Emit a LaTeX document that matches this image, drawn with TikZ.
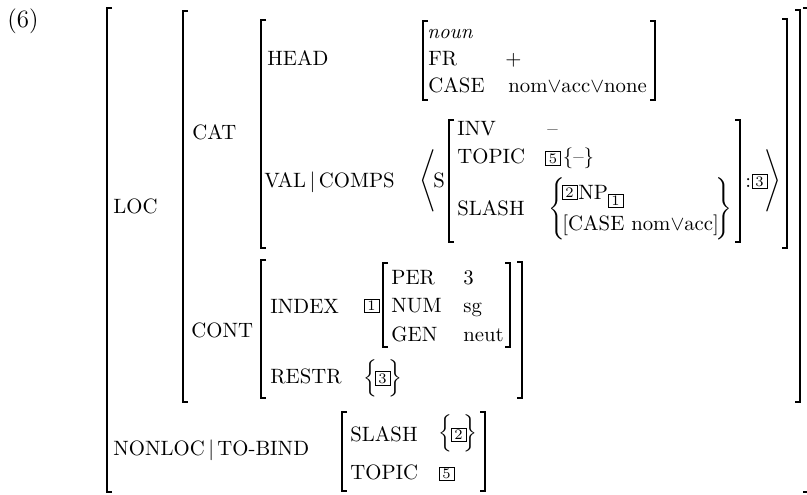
\documentclass[tikz,border=0pt]{standalone}
\usepackage{amsmath, amssymb}
\usepackage{tikz}

\tikzset{
  lbl/.style={anchor=base west, inner sep=0pt},
  delim/.style={inner sep=0pt},
  tagbox/.style={draw, line width=0.4pt, inner sep=0pt, minimum width=7.2pt, minimum height=6.6pt, font=\scriptsize},
  brk/.style={line width=0.55pt}
}

\begin{document}
\begin{tikzpicture}[x=0.4818pt, y=-0.4818pt]
  \useasboundingbox (0,0) rectangle (807,494);
  \node[lbl, font=\large] (exno) at (7,27) {(6)};
  % brackets: left ones, then right ones
  \foreach \x/\ya/\yb in {107/8/492, 183/11/402, 261/20/248, 261/260/398, 423/21/100, 449/120/242, 383/263/347, 342/412/491}
    \draw[brk] (\x+5,\ya) -- (\x,\ya) -- (\x,\yb) -- (\x+5,\yb);
  \foreach \x/\ya/\yb in {808/8/492, 800/10/402, 787/19/248, 522/262/398, 655/21/100, 740/120/242, 510/263/347, 485/412/491}
    \draw[brk] (\x-5,\ya) -- (\x,\ya) -- (\x,\yb) -- (\x-5,\yb);

  \node[lbl] (loc) at (113,213) {LOC};
  \node[lbl] (cat) at (192,139) {CAT};
  \node[lbl] (head) at (267,65) {HEAD};
  \node[lbl] (noun) at (427,38) {\textit{noun}};
  \node[lbl] (fr) at (428,65) {FR};
  \node[lbl] (frval) at (505,65) {$+$};
  \node[lbl] (case) at (428,92) {CASE};
  \node[lbl] (caseval) at (508,92) {nom$\vee$acc$\vee$none};

  \node[lbl] (comps) at (264,187) {VAL\,$|$\,COMPS};
  \node[delim, anchor=west] (langle) at (419,181) {$\Bigg\langle$};
  \node[lbl] (s) at (433,187) {S};
  \node[lbl] (inv) at (457,135) {INV};
  \node[lbl] (invval) at (547,135) {--};
  \node[lbl] (topic) at (457,163) {TOPIC};
  \node[tagbox] (tagfive) at (553,158.5) {5};
  \node[lbl] (topicval) at (562.5,163) {\{--\}};
  \node[lbl] (slash) at (457,215) {SLASH};
  \node[delim, anchor=west] (lbrace) at (548,209) {$\Bigg\{$};
  \node[tagbox] (tagtwo) at (569.5,192.5) {2};
  \node[lbl] (np) at (578,199) {NP};
  \node[tagbox] (tagone) at (615.5,201) {1};
  \node[lbl] (npcase) at (562,230) {[CASE nom$\vee$acc]};
  \node[delim, anchor=east] (rbrace) at (733,209) {$\Bigg\}$};
  \node[lbl] (colon) at (745,187) {:};
  \node[tagbox] (tagthree) at (759.5,181.5) {3};
  \node[delim, anchor=east] (rangle) at (782,181) {$\Bigg\rangle$};

  \node[lbl] (cont) at (191,337) {CONT};
  \node[lbl] (index) at (270,313) {INDEX};
  \node[tagbox] (tagoneb) at (371.5,306) {1};
  \node[lbl] (per) at (391,284) {PER};
  \node[lbl] (perval) at (463,284) {3};
  \node[lbl] (numb) at (391,312.5) {NUM};
  \node[lbl] (numval) at (463,312.5) {sg};
  \node[lbl] (gen) at (391,341) {GEN};
  \node[lbl] (genval) at (463,341) {neut};
  \node[lbl] (restr) at (270,383) {RESTR};
  \node[delim, anchor=west] (restrl) at (363,378) {$\Big\{$};
  \node[tagbox] (tagthreeb) at (382.5,378.5) {3};
  \node[delim, anchor=east] (restrr) at (403,378) {$\Big\}$};

  \node[lbl] (nonloc) at (113,455) {NONLOC\,$|$\,TO-BIND};
  \node[lbl] (bslash) at (350,441) {SLASH};
  \node[delim, anchor=west] (bslashl) at (438,433.5) {$\Big\{$};
  \node[tagbox] (tagtwob) at (458.5,435) {2};
  \node[delim, anchor=east] (bslashr) at (478,433.5) {$\Big\}$};
  \node[lbl] (btopic) at (350,479) {TOPIC};
  \node[tagbox] (tagfiveb) at (446.5,474) {5};
\end{tikzpicture}
\end{document}
